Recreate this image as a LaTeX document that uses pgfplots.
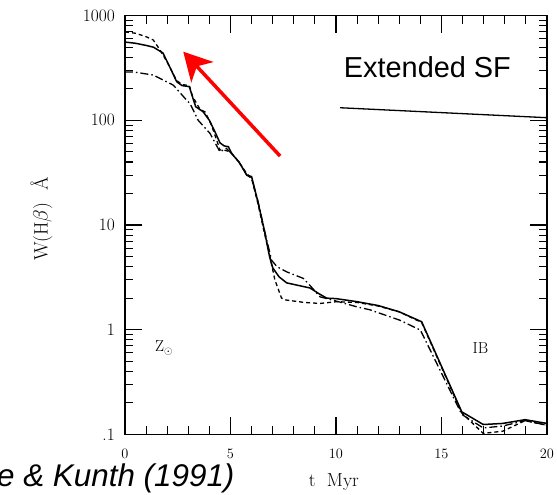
\documentclass[border=0pt]{standalone}
\usepackage{fontspec}
\usepackage{pgfplots}
\pgfplotsset{compat=1.18}
\usetikzlibrary{arrows.meta}
\newfontfamily\arial{Liberation Sans}
\begin{document}
\begin{tikzpicture}
\useasboundingbox (-125bp,-60.7bp) rectangle (432bp,434.3bp);
\begin{axis}[
  at={(0,0)}, anchor=south west,
  scale only axis, width=422bp, height=418.6bp,
  xmin=0, xmax=20, ymin=0.1, ymax=1000, ymode=log, log basis y=10,
  xtick={0,5,10,15,20},
  ytick={0.1,1,10,100,1000}, yticklabels={.1,1,10,100,1000},
  minor xtick={}, minor ytick={},
  tick style={draw=none},
  yticklabel style={font=\fontsize{17.5}{18}\selectfont, inner sep=0pt, xshift=-10bp},
  xticklabel style={font=\fontsize{13.5}{14}\selectfont, inner sep=0pt, yshift=-15bp},
  xlabel={t~~Myr},
  ylabel={W(H$\beta$)~~Å},
  xlabel style={at={(axis description cs:0.495,-0.114)}, anchor=center, font=\fontsize{19}{19}\selectfont},
  ylabel style={at={(axis description cs:-0.198,0.514)}, anchor=center, font=\fontsize{19.5}{19}\selectfont},
]
% solid
\addplot[black, line width=1.5bp] coordinates {
(0,560) (0.5,545) (1.0,520) (1.35,500) (1.8,440) (2.1,330) (2.45,234) (2.7,215) (3.05,210) (3.15,180) (3.35,135) (3.7,121) (4.0,100) (4.3,75) (4.5,61) (4.7,57) (4.9,56) (5.06,48) (5.4,40) (5.77,30) (6.0,29) (6.3,16.6) (6.6,9) (6.85,5) (7.0,3.9) (7.3,3.2) (7.66,2.8) (8.2,2.65) (8.77,2.5) (9.2,2.2) (9.56,2.0) (10.0,1.98) (11.0,1.85) (12.0,1.7) (13.0,1.48) (14.06,1.19) (15.96,0.164) (16.98,0.124) (17.9,0.127) (18.96,0.138) (20,0.127)
};
% dashed
\addplot[black, line width=1.3bp, dash pattern=on 4bp off 3bp] coordinates {
(0,700) (0.5,680) (1.0,630) (1.34,586) (1.66,470) (2.0,360) (2.45,240) (2.7,220) (3.05,215) (3.2,170) (3.55,128) (3.8,120) (4.1,90) (4.4,60) (4.5,52) (4.7,52) (5.0,50) (5.4,40) (5.77,31) (6.0,28) (6.3,16) (6.6,8.5) (6.87,5.0) (7.1,3.0) (7.42,2.0) (7.63,1.92) (8.5,1.82) (9.24,1.78) (10.03,1.85) (11,1.82) (12,1.68) (13,1.48) (14.06,1.17) (15.96,0.16) (16.98,0.102) (17.9,0.107) (18.96,0.135) (20,0.122)
};
% dash-dot
\addplot[black, line width=1.3bp, dash pattern=on 8bp off 3bp on 1.5bp off 3bp] coordinates {
(0,290) (0.4,290) (1.34,271) (2.29,217) (2.92,156) (3.08,145) (3.47,100) (4.03,75) (4.5,50) (4.8,54) (5.06,48) (5.4,40) (5.77,30) (6.0,28) (6.3,17) (6.6,9) (6.95,4.6) (7.2,4.0) (7.66,3.57) (8.45,3.09) (8.8,2.6) (9.24,2.06) (10.03,1.87) (11,1.65) (11.6,1.55) (13.03,1.23) (14,0.99) (15.96,0.155) (16.98,0.115) (17.9,0.12) (18.96,0.135) (20,0.122)
};
% extended SF
\addplot[black, line width=1.3bp] coordinates {(10.19,132) (20,106)};
% red arrow
\addplot[red, line width=3.5bp, -{Stealth[length=28bp, width=30bp, inset=8bp]}] coordinates {(7.35,45.6) (2.76,453)};
\node[font=\fontsize{16}{16}\selectfont] at (axis cs:1.85,0.665) {$\mathrm{Z}_{\odot}$};
\node[font=\fontsize{16}{16}\selectfont] at (axis cs:16.85,0.673) {IB};
\end{axis}
% frame and tick marks, drawn outside the axis in canvas units
\draw[line width=1.2bp] (0bp,0bp) rectangle (422bp,418.6bp);
\foreach \i in {0,...,20}{
  \pgfmathsetmacro\len{ifthenelse(mod(\i,5)==0,17,8)}
  \draw[line width=1.1bp] (\i*21.1bp,0bp) -- ++(0bp,\len*1bp);
  \draw[line width=1.1bp] (\i*21.1bp,418.6bp) -- ++(0bp,-\len*1bp);
}
\foreach \d in {0,1,2,3,4}{
  \draw[line width=1.1bp] (0bp,\d*104.65bp) -- ++(17bp,0bp);
  \draw[line width=1.1bp] (422bp,\d*104.65bp) -- ++(-17bp,0bp);
}
\foreach \d in {0,1,2,3}{
  \foreach \m in {2,...,9}{
    \pgfmathsetmacro\yy{(\d+log10(\m))*104.65}
    \draw[line width=1.1bp] (0bp,\yy*1bp) -- ++(8bp,0bp);
    \draw[line width=1.1bp] (422bp,\yy*1bp) -- ++(-8bp,0bp);
  }
}
\node[anchor=base west, inner sep=0pt, font=\arial\itshape\fontsize{31.5}{32}\selectfont] at (-128bp,-52.4bp) {e \& Kunth (1991)};
\node[anchor=base west, inner sep=0pt, font=\arial\fontsize{29}{30}\selectfont] at (218.7bp,357bp) {Extended SF};
\end{tikzpicture}
\end{document}
